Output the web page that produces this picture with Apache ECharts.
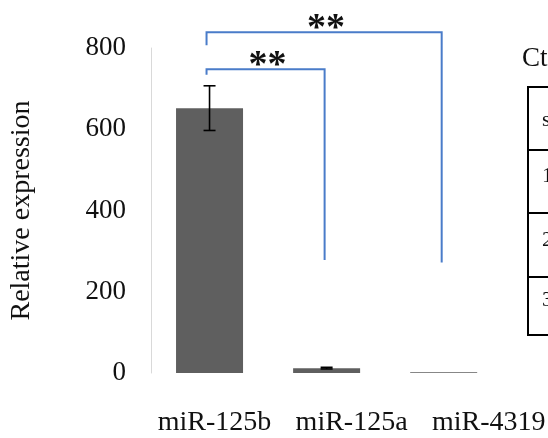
<!DOCTYPE html>
<html>
<head>
<meta charset="utf-8">
<script src="https://cdn.jsdelivr.net/npm/echarts@6/dist/echarts.min.js"></script>
<style>
html,body{margin:0;padding:0;background:#fff;}
#main{width:548px;height:438px;}
</style>
</head>
<body>
<div id="main"></div>
<script>
// ---- data ----
var categories = ['miR-125b', 'miR-125a', 'miR-4319'];
var values = [652, 12, 2];
var errors = [55, 2, 0];
var yTicks = [0, 200, 400, 600, 800];
// significance brackets: [fromIndex, toIndex, topValue, leftLegBottom, rightLegBottom, label]
var brackets = [
  [0, 1, 748, 734, 278, '**'],
  [0, 2, 839, 807, 272, '**']
];
var tableTitle = 'Ct';
var tableCells = ['s', '1', '2', '3'];

var FONT = "'Liberation Serif', 'Times New Roman', serif";

var chart = echarts.init(document.getElementById('main'), null, {renderer: 'canvas'});

var errData = values.map(function (v, i) { return [i, v - errors[i], v + errors[i], errors[i]]; });

// label placement in the original figure is spread wider than the bars
var labelShift = [10, 50, 90];
var rich = {};
labelShift.forEach(function (s, i) {
  rich['p' + i] = {padding: [0, 0, 0, s], fontFamily: FONT, fontSize: 28, color: '#111'};
});

var option = {
  backgroundColor: '#ffffff',
  animation: false,
  grid: {left: 150, right: 44, top: 48, bottom: 65},
  xAxis: {type: 'category', data: categories,
    axisLine: {show: false}, axisTick: {show: false},
    axisLabel: {show: true, interval: 0, margin: 36, fontFamily: FONT, fontSize: 28, color: '#111',
      formatter: function (v, i) { return '{p' + i + '|' + v + '}'; }, rich: rich}},
  yAxis: {type: 'value', min: yTicks[0], max: yTicks[yTicks.length - 1], interval: 200,
    axisLine: {show: true, lineStyle: {color: '#d9d9d9', width: 1}},
    axisTick: {show: false}, splitLine: {show: false},
    axisLabel: {margin: 25, fontFamily: FONT, fontSize: 27, color: '#111'},
    name: 'Relative expression', nameLocation: 'middle', nameRotate: 90, nameGap: 115,
    nameTextStyle: {fontFamily: FONT, fontSize: 28, color: '#111'}},
  series: [
    {type: 'bar', data: values, barWidth: 67, itemStyle: {color: '#5f5f5f'}},
    {type: 'custom', data: errData, clip: false, z: 5,
     renderItem: function (params, api) {
       if (!api.value(3)) { return null; }
       var x = api.coord([api.value(0), 0])[0];
       var lo = api.coord([api.value(0), api.value(1)])[1];
       var hi = api.coord([api.value(0), api.value(2)])[1];
       var c = 6;
       var st = {stroke: '#000', lineWidth: 1.6};
       return {type: 'group', children: [
         {type: 'line', shape: {x1: x, y1: lo, x2: x, y2: hi}, style: st},
         {type: 'line', shape: {x1: x - c, y1: hi, x2: x + c, y2: hi}, style: st},
         {type: 'line', shape: {x1: x - c, y1: lo, x2: x + c, y2: lo}, style: st}
       ]};
     }},
    {type: 'custom', clip: false, z: 6,
     data: brackets.map(function (b) { return b.slice(0, 5); }),
     renderItem: function (params, api) {
       var b = brackets[params.dataIndex];
       var x0 = api.coord([api.value(0), 0])[0] - 3;
       var x1 = api.coord([api.value(1), 0])[0] - 2;
       var yt = api.coord([0, api.value(2)])[1];
       var yl = api.coord([0, api.value(3)])[1];
       var yr = api.coord([0, api.value(4)])[1];
       return {type: 'group', children: [
         {type: 'polyline', shape: {points: [[x0, yl], [x0, yt], [x1, yt], [x1, yr]]},
          style: {stroke: '#4a7cc9', lineWidth: 2, fill: null}},
         {type: 'text', style: {text: b[5], x: (x0 + x1) / 2 + 2, y: yt - 3,
          align: 'center', verticalAlign: 'middle', font: 'bold 38px ' + FONT, fill: '#111'}}
       ]};
     }}
  ],
  graphic: [
    {type: 'text', left: 522, top: 45, style: {text: tableTitle, font: '27px ' + FONT, fill: '#111'}},
    {type: 'rect', shape: {x: 528, y: 87, width: 40, height: 248},
     style: {stroke: '#000', lineWidth: 2, fill: null}},
    {type: 'line', shape: {x1: 528, y1: 150, x2: 560, y2: 150}, style: {stroke: '#000', lineWidth: 2}},
    {type: 'line', shape: {x1: 528, y1: 213, x2: 560, y2: 213}, style: {stroke: '#000', lineWidth: 2}},
    {type: 'line', shape: {x1: 528, y1: 277, x2: 560, y2: 277}, style: {stroke: '#000', lineWidth: 2}},
    {type: 'text', x: 542, y: 120, style: {text: tableCells[0], font: '22px ' + FONT, fill: '#111', verticalAlign: 'middle'}},
    {type: 'text', x: 542, y: 176, style: {text: tableCells[1], font: '22px ' + FONT, fill: '#111', verticalAlign: 'middle'}},
    {type: 'text', x: 542, y: 240, style: {text: tableCells[2], font: '22px ' + FONT, fill: '#111', verticalAlign: 'middle'}},
    {type: 'text', x: 542, y: 300, style: {text: tableCells[3], font: '22px ' + FONT, fill: '#111', verticalAlign: 'middle'}}
  ]
};
chart.setOption(option);
</script>
</body>
</html>
